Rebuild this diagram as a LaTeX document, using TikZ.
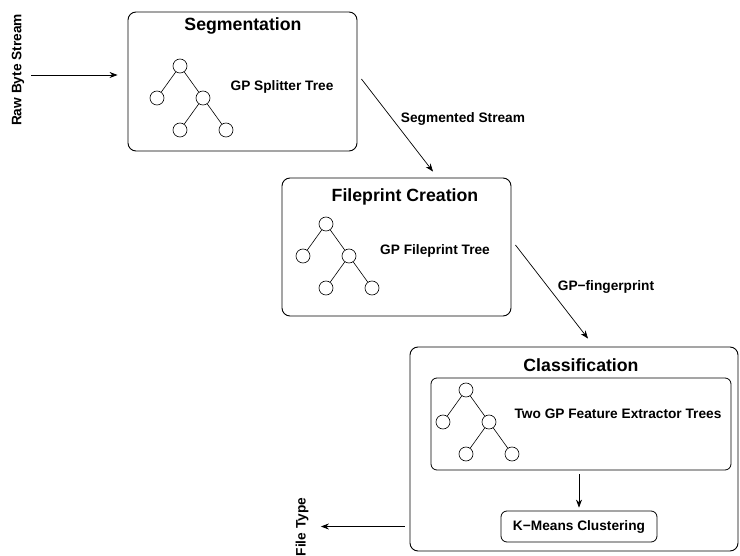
\documentclass[tikz,border=0pt]{standalone}
\usepackage{fontspec}
\setmainfont{Liberation Sans}
\usepackage{tikz}
\usetikzlibrary{calc}
\usetikzlibrary{shapes}
\usetikzlibrary{arrows.meta}
\usetikzlibrary{positioning}

\tikzset{
  stage/.style={draw, rounded corners=8pt, line width=0.9pt},
  substage/.style={draw, rounded corners=6pt, line width=0.8pt},
  leaf/.style={draw, circle, minimum size=14pt, inner sep=0pt, line width=0.6pt},
  title/.style={font=\fontsize{17.7}{20}\selectfont\bfseries},
  lbl/.style={font=\fontsize{13.7}{16}\selectfont\bfseries},
  flow/.style={-{Stealth[length=8pt,width=6pt]}, line width=0.7pt},
  edge from parent/.style={draw, line width=0.6pt}
}

\begin{document}
\begin{tikzpicture}[x=1pt, y=-1pt, level distance=32pt, sibling distance=46pt]
  \useasboundingbox (0,0) rectangle (740,556);

  \node[stage, minimum width=229pt, minimum height=139pt] (seg) at (242.5,81.5) {};
  \node[title] (segtitle) at (243,26) {Segmentation};
  \node[leaf] (segroot) at (180,66) {}
     child { node[leaf] {} }
     child {
       node[leaf] {}
       child { node[leaf] {} }
       child { node[leaf] {} }
     };
  \node[lbl] (segname) at (282,87) {GP Splitter Tree};

  \node[stage, minimum width=229pt, minimum height=138pt] (fp) at (396.5,247) {};
  \node[title] (fptitle) at (405,197) {Fileprint Creation};
  \node[leaf] (fproot) at (326,224) {}
     child { node[leaf] {} }
     child {
       node[leaf] {}
       child { node[leaf] {} }
       child { node[leaf] {} }
     };
  \node[lbl] (fpname) at (435,251) {GP Fileprint Tree};

  \node[stage, minimum width=328pt, minimum height=204pt] (cls) at (574,449) {};
  \node[title] (clstitle) at (581,365) {Classification};
  \node[substage, minimum width=300pt, minimum height=92pt] (feat) at (581,424) {};
  \node[leaf] (clsroot) at (466,390) {}
     child { node[leaf] {} }
     child {
       node[leaf] {}
       child { node[leaf] {} }
       child { node[leaf] {} }
     };
  \node[lbl] (featname) at (618,414) {Two GP Feature Extractor Trees};
  \node[substage, lbl, minimum width=156pt, minimum height=31pt] (kmeans) at (579,526.5) {K−Means Clustering};

  \node[lbl, rotate=90] (rawlbl) at (18,70) {Raw Byte Stream};
  \node[lbl, rotate=90] (typelbl) at (302,527) {File Type};
  \node[lbl] (segstream) at (463,119) {Segmented Stream};
  \node[lbl] (fingerprint) at (606,287) {GP−fingerprint};

  \coordinate (rawout) at (31,75);
  \draw[flow] (rawout) -- ([xshift=-10pt]rawout -| seg.west);
  \draw[flow] ([xshift=4pt,yshift=2.5pt]seg.east) -- ([xshift=36.5pt,yshift=6pt]fp.north);
  \draw[flow] ([xshift=4pt,yshift=2pt]fp.east) -- ([xshift=14pt,yshift=8pt]cls.north);
  \draw[flow, shorten <=4pt, shorten >=3pt] (kmeans.north |- feat.south) -- (kmeans.north);
  \draw[flow, shorten <=5pt, shorten >=9pt] (cls.west |- kmeans) -- (typelbl.south |- kmeans);
\end{tikzpicture}
\end{document}
